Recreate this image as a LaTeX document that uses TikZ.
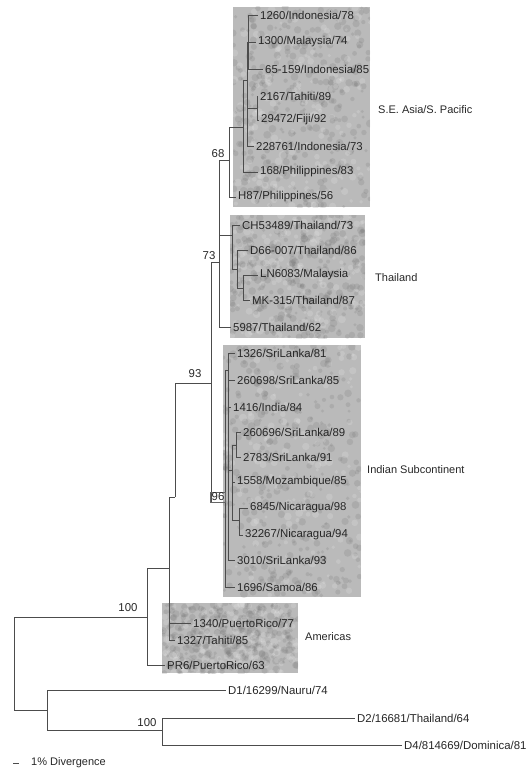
\documentclass[tikz,border=0pt]{standalone}
\usepackage{fontspec}
\setmainfont{Liberation Sans}
\begin{document}
\begin{tikzpicture}[x=1pt,y=-1pt,
    leaf/.style={anchor=west, inner sep=2pt, font=\fontsize{11.4}{13}\selectfont, text=black!85},
    branch/.style={draw=black!70, line width=0.6pt},
    boot/.style={font=\fontsize{11.4}{13}\selectfont, inner sep=1pt, text=black!85},
    clade/.style={anchor=west, inner sep=0pt, font=\fontsize{11}{13}\selectfont, text=black!85},
    shade/.style={fill=black!27},
    blotch/.style={fill=black!55, opacity=0.2}]
    \useasboundingbox (0,0) rectangle (528,773);

    % Shaded clade boxes, mottled
    \pgfmathsetseed{7}
    \foreach \xa/\ya/\xb/\yb in {233/7/370/207, 230/215/365/338, 223/345/361/597, 162/603/298/673} {
        \fill[shade] (\xa,\ya) rectangle (\xb,\yb);
        \begin{scope}
            \clip (\xa,\ya) rectangle (\xb,\yb);
            \foreach \k in {1,...,320} {
                \pgfmathsetmacro\px{\xa+rnd*(\xb-\xa)}
                \pgfmathsetmacro\py{\ya+rnd*(\yb-\ya)}
                \pgfmathsetmacro\pr{1.5+2.5*rnd}
                \fill[blotch] (\px,\py) circle (\pr pt);
            }
            \foreach \k in {1,...,160} {
                \pgfmathsetmacro\px{\xa+rnd*(\xb-\xa)}
                \pgfmathsetmacro\py{\ya+rnd*(\yb-\ya)}
                \pgfmathsetmacro\pr{1.5+2.5*rnd}
                \fill[white, opacity=0.15] (\px,\py) circle (\pr pt);
            }
        \end{scope}
    }

    % Internal nodes
    \coordinate (nA) at (248,42);
    \coordinate (nB) at (257,108);
    \coordinate (nC) at (247,80);
    \coordinate (nD) at (243,127);
    \coordinate (n68) at (229,160);
    \coordinate (nTrunk) at (219,262);
    \coordinate (nTh1) at (232,235);
    \coordinate (nTh2) at (237,269);
    \coordinate (nTh3) at (243,288);
    \coordinate (n93) at (211,383);
    \coordinate (nI1) at (225,502);
    \coordinate (nI2) at (228,370);
    \coordinate (nI3) at (232,470);
    \coordinate (nI4) at (236,445);
    \coordinate (nI5) at (239,520);
    \coordinate (nElbow) at (175,497);
    \coordinate (nAm) at (169,568);
    \coordinate (n100) at (147,617);
    \coordinate (nOut) at (47,710);
    \coordinate (nDen) at (162,730);
    \coordinate (root) at (14,663);

    % S.E. Asia / S. Pacific
    \node[leaf] (l1260) at (258,15) {1260/Indonesia/78};
    \node[leaf] (l1300) at (256,42) {1300/Malaysia/74};
    \node[leaf] (l65159) at (263,69) {65-159/Indonesia/85};
    \node[leaf] (l2167) at (258,96) {2167/Tahiti/89};
    \node[leaf] (l29472) at (259,120) {29472/Fiji/92};
    \node[leaf] (l228761) at (254,146) {228761/Indonesia/73};
    \node[leaf] (l168) at (258,172) {168/Philippines/83};
    \node[leaf] (lH87) at (236,197) {H87/Philippines/56};

    % Thailand
    \node[leaf] (lCH) at (240,225) {CH53489/Thailand/73};
    \node[leaf] (lD66) at (248,250) {D66-007/Thailand/86};
    \node[leaf] (lLN) at (258,275) {LN6083/Malaysia};
    \node[leaf] (lMK) at (250,300) {MK-315/Thailand/87};
    \node[leaf] (l5987) at (231,327) {5987/Thailand/62};

    % Indian Subcontinent
    \node[leaf] (l1326) at (235,353) {1326/SriLanka/81};
    \node[leaf] (l260698) at (235,380) {260698/SriLanka/85};
    \node[leaf] (l1416) at (231,407) {1416/India/84};
    \node[leaf] (l260696) at (241,432) {260696/SriLanka/89};
    \node[leaf] (l2783) at (241,457) {2783/SriLanka/91};
    \node[leaf] (l1558) at (235,482) {1558/Mozambique/85};
    \node[leaf] (l6845) at (248,508) {6845/Nicaragua/98};
    \node[leaf] (l32267) at (243,535) {32267/Nicaragua/94};
    \node[leaf] (l3010) at (235,560) {3010/SriLanka/93};
    \node[leaf] (l1696) at (235,587) {1696/Samoa/86};

    % Americas
    \node[leaf] (l1340) at (191,623) {1340/PuertoRico/77};
    \node[leaf] (l1327) at (175,640) {1327/Tahiti/85};
    \node[leaf] (lPR6) at (165,665) {PR6/PuertoRico/63};

    % Other serotypes
    \node[leaf] (lD1) at (226,690) {D1/16299/Nauru/74};
    \node[leaf] (lD2) at (355,718) {D2/16681/Thailand/64};
    \node[leaf] (lD4) at (402,745) {D4/814669/Dominica/81};

    % Branches to internal nodes
    \foreach \p/\c in {nC/nA, nC/nB, nD/nC, n68/nD, nTrunk/n68, nTrunk/nTh1,
        nTh1/nTh2, nTh2/nTh3, n93/nTrunk, n93/nI1, nI1/nI2, nI2/nI3, nI3/nI4,
        nI3/nI5, nElbow/n93, nAm/nElbow, n100/nAm, root/n100, root/nOut, nOut/nDen}
        \draw[branch] (\p) |- (\c);

    % Branches to leaves
    \foreach \p/\c in {nA/l1260, nA/l1300, nA/l65159, nB/l2167, nB/l29472,
        nC/l228761, nD/l168, n68/lH87, nTh1/lCH, nTh2/lD66, nTh3/lLN, nTh3/lMK,
        nTrunk/l5987, nI2/l1326, nI2/l260698, nI2/l1416, nI4/l260696, nI4/l2783,
        nI3/l1558, nI5/l6845, nI5/l32267, nI2/l3010, nI1/l1696, nAm/l1340,
        nAm/l1327, n100/lPR6, nOut/lD1, nDen/lD2, nDen/lD4}
        \draw[branch] (\p) |- (\c.west);

    % Bootstrap values
    \node[boot] (b68) at (218,154) {68};
    \node[boot] (b73) at (209,256) {73};
    \node[boot] (b93) at (195,374) {93};
    \node[boot, draw=black!60, line width=0.5pt] (b96) at (218,497) {96};
    \node[boot] (b100a) at (128,608) {100};
    \node[boot] (b100b) at (147,723) {100};

    % Clade labels
    \node[clade] (cSEA) at (378,110) {S.E. Asia/S. Pacific};
    \node[clade] (cTh) at (375,278) {Thailand};
    \node[clade] (cInd) at (367,470) {Indian Subcontinent};
    \node[clade] (cAm) at (305,637) {Americas};

    % Scale bar
    \coordinate (barL) at (13,763);
    \coordinate (barR) at (19,763);
    \draw[branch] (barL) -- (barR);
    \node[clade] (scale) at (31,763) {1\% Divergence};
\end{tikzpicture}
\end{document}
